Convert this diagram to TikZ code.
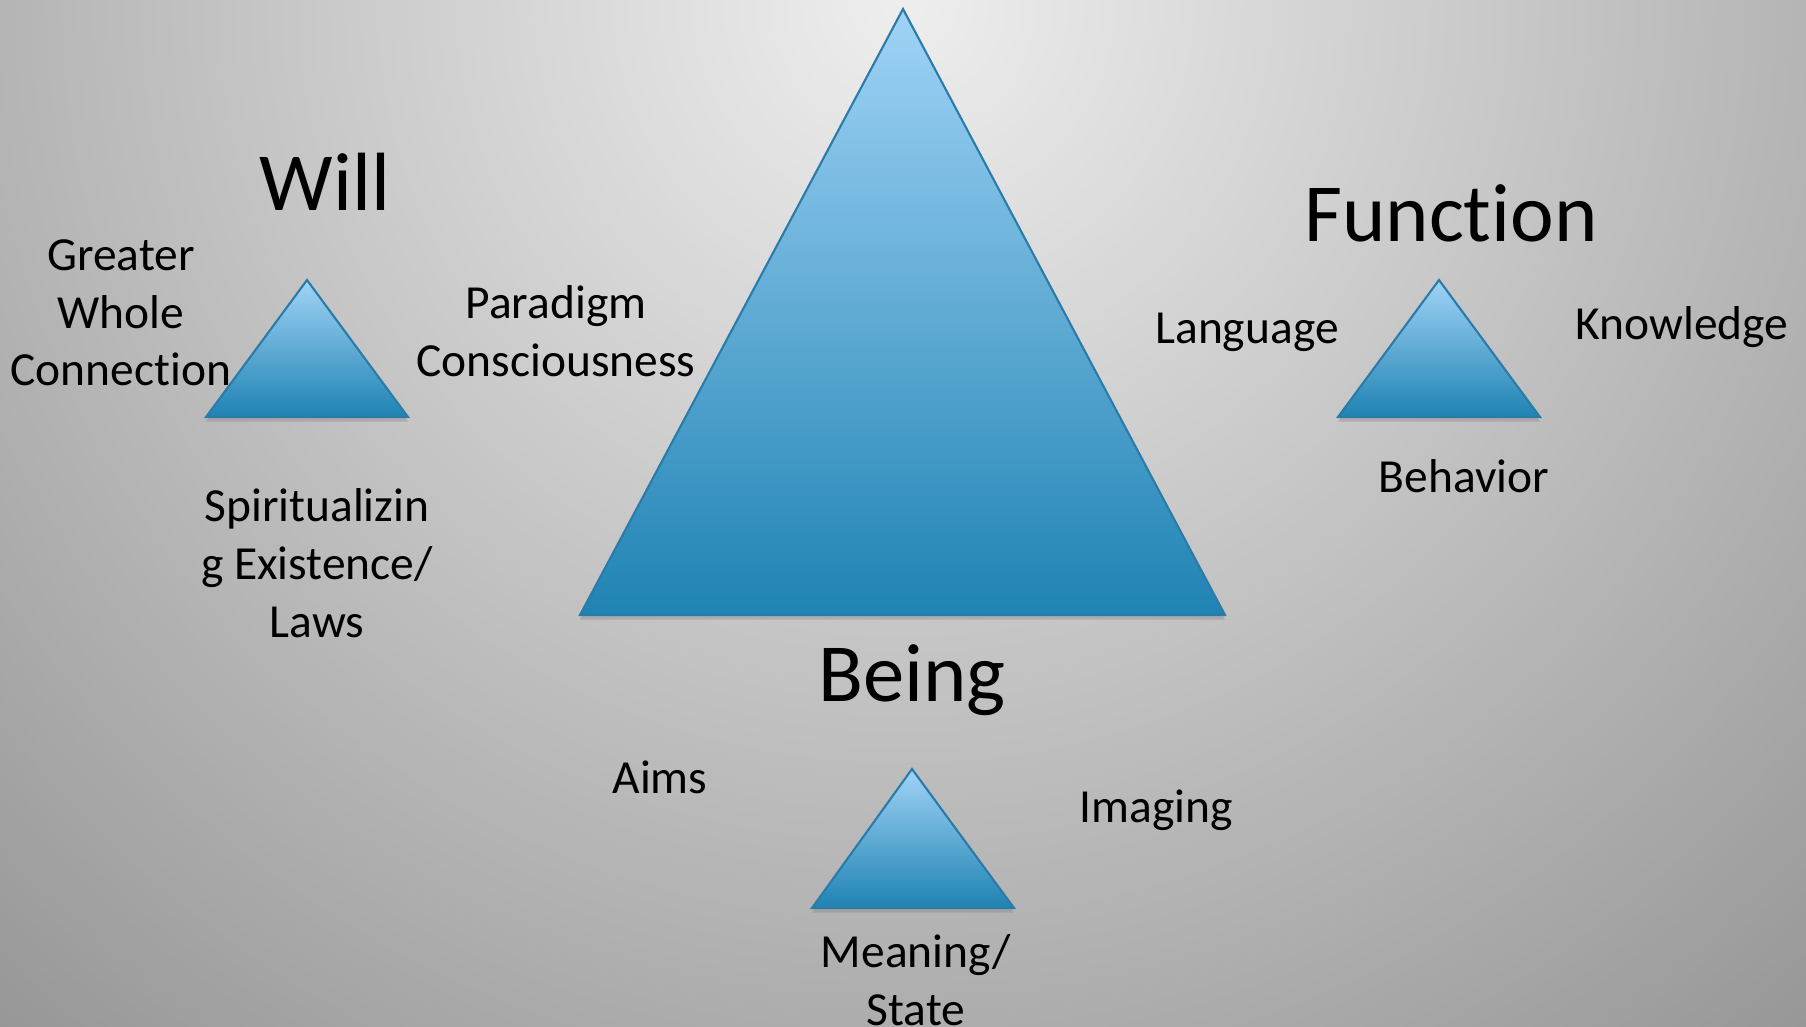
\documentclass[tikz,border=0pt]{standalone}
\usepackage{fontspec}
\setmainfont[Ligatures={NoCommon,NoContextual,NoRare}]{Carlito}
\usetikzlibrary{shadows}

\definecolor{bgLight}{HTML}{EEEEEE}
\definecolor{bgDark}{HTML}{959595}
\definecolor{triTop}{HTML}{A0D3F6}
\definecolor{triBottom}{HTML}{1F83B3}
\definecolor{triEdge}{HTML}{2B7BA8}

\begin{document}
\begin{tikzpicture}[x=0.01cm, y=-0.01cm,
  pyramid/.style={top color=triTop, bottom color=triBottom, draw=triEdge,
    line width=0.6pt, line join=miter,
    drop shadow={opacity=0.35, shadow xshift=0pt, shadow yshift=-1.3pt}},
  small/.style={font=\fontsize{13.5}{16.4}\selectfont, align=center, inner sep=0pt},
  big/.style={font=\fontsize{23.5}{28}\selectfont, inner sep=0pt}]

  % --- Background (radial gradient from the top) ---
  \useasboundingbox (0,0) rectangle (1806,1026);
  \begin{scope}
    \clip (0,0) rectangle (1806,1026);
    \shade[inner color=bgLight, outer color=bgDark]
      (903,0) circle (1400);
  \end{scope}

  % --- Large central triangle ---
  \shade[pyramid]
    (903,9) -- (1225,615) -- (580,615) -- cycle;

  % --- Small triangles (vertical gradient) ---
  \shade[pyramid]
    (307,280) -- (408,417) -- (206,417) -- cycle;
  \shade[pyramid]
    (1439,280) -- (1540,417) -- (1338,417) -- cycle;
  \shade[pyramid]
    (912,769) -- (1014,908) -- (812,908) -- cycle;

  % --- Titles ---
  \node[big] (will) at (325,182) {Will};
  \node[big] (function) at (1451,213) {Function};
  \node[big] (being) at (912,680) {Being};

  % --- Will labels ---
  \node[small] (greater) at (121,313) {Greater\\Whole\\Connection};
  \node[small] (paradigm) at (556,331) {Paradigm\\Consciousness};
  \node[small] (spirit) at (317,563) {Spiritualizin\\g Existence/\\Laws};

  % --- Function labels ---
  \node[small] (language) at (1247,332) {Language};
  \node[small] (knowledge) at (1682,327) {Knowledge};
  \node[small] (behavior) at (1464,476) {Behavior};

  % --- Being labels ---
  \node[small] (aims) at (660,777) {Aims};
  \node[small] (imaging) at (1156,810) {Imaging};
  \node[small] (meaning) at (916,980) {Meaning/\\State};

\end{tikzpicture}
\end{document}
